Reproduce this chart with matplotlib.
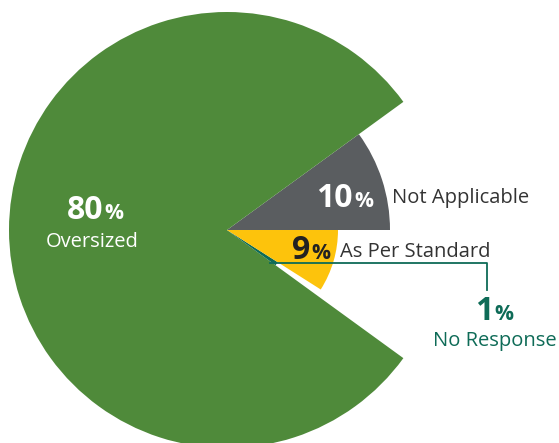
import matplotlib.pyplot as plt
from matplotlib.patches import Wedge
import numpy as np

plt.rcParams['font.family'] = ['Open Sans', 'DejaVu Sans']

# slices in counter-clockwise order starting at 3 o'clock
labels = ["Not Applicable", "Oversized", "No Response", "As Per Standard"]
values = [10, 80, 1, 9]
radii = [163, 218, 60, 111]
colors = ["#5a5d60", "#4f8a3a", "#0e6b57", "#fdc30c"]

fig = plt.figure(figsize=(5.59, 4.43), dpi=100)
ax = fig.add_axes([0, 0, 1, 1])
ax.set_xlim(0, 559)
ax.set_ylim(443, 0)
ax.axis("off")

cx, cy = 227, 230
start = 0
for lab, v, r, c in zip(labels, values, radii, colors):
    span = v / sum(values) * 360
    # y axis is flipped, so negate the angles
    ax.add_patch(Wedge((cx, cy), r, -(start + span), -start, color=c, lw=0))
    start += span

def pct(x, y, num, col, size=23):
    ax.text(x, y, num, fontsize=size, fontweight="bold", color=col,
            ha="right", va="baseline")
    ax.text(x + 1, y, "%", fontsize=size * 0.66, fontweight="bold",
            color=col, ha="left", va="baseline")

pct(103, 219, "80", "white")
ax.text(92, 247, "Oversized", fontsize=14.5, color="white", ha="center", va="baseline")

pct(353, 207, "10", "white")
ax.text(392, 203, "Not Applicable", fontsize=14.5, color="#333333", ha="left", va="baseline")

pct(310, 259, "9", "#222222")
ax.text(340, 257, "As Per Standard", fontsize=14.5, color="#333333", ha="left", va="baseline")

# leader for the small slice
ax.plot([270, 487, 487], [263, 263, 290], color="#0e6b57", lw=1.3)
pct(493, 320, "1", "#0e6b57")
ax.text(495, 346, "No Response", fontsize=14.5, color="#0e6b57", ha="center", va="baseline")

fig.savefig("out.png", dpi=100)
